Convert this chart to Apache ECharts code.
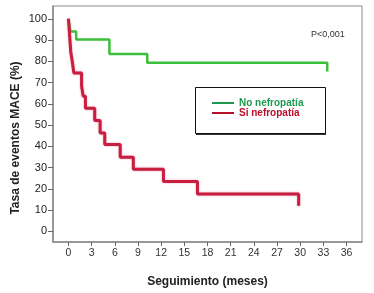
<!DOCTYPE html>
<html>
<head>
<meta charset="utf-8">
<script src="https://cdn.jsdelivr.net/npm/echarts@6/dist/echarts.min.js"></script>
<style>
  html, body { margin: 0; padding: 0; background: #fff; }
  #chart { width: 374px; height: 293px; }
</style>
</head>
<body>
<div id="chart"></div>
<script>
// Kaplan-Meier curves (time in months, rate in %)
const noNefTime = [0, 0.25, 1.0, 5.3, 10.2, 33.5]
const noNefRate = [100, 94, 90.2, 83.4, 79.3, 75.2]

const siNefTime = [0, 0.2, 0.3, 0.5, 0.7, 1.7, 1.9, 2.2, 3.4, 4.1, 4.7, 6.7, 8.4, 12.3, 16.7, 29.8]
const siNefRate = [100, 89.6, 84.4, 79.8, 74.5, 68.5, 63.6, 57.9, 52.1, 46.3, 40.8, 34.9, 29.2, 23.4, 17.6, 12.0]

const xTicks = [0, 3, 6, 9, 12, 15, 18, 21, 24, 27, 30, 33, 36]
const yTicks = [0, 10, 20, 30, 40, 50, 60, 70, 80, 90, 100]

const seriesNames = ['No nefropatía', 'Si nefropatía']

const toPairs = (t, v) => t.map((x, i) => [x, v[i]])

const chart = echarts.init(document.getElementById('chart'))

const font = 'Liberation Sans, Arial, sans-serif'

chart.setOption({
  animation: false,
  title: {
    text: 'P<0,001',
    left: 306,
    top: 25,
    textStyle: { fontSize: 9, fontWeight: 'normal', color: '#333', fontFamily: font },
  },
  grid: {
    left: 53,
    top: 6,
    right: 12,
    bottom: 45,
    show: true,
    borderColor: '#8a8a8a',
    borderWidth: 1,
  },
  legend: {
    left: 207,
    top: 93,
    orient: 'vertical',
    icon: 'rect',
    itemWidth: 22,
    itemHeight: 2,
    itemGap: 0,
    itemTextGap: 8,
    data: [
      { name: seriesNames[0], itemStyle: { color: '#1e9a50' }, textStyle: { color: '#1e9a50' } },
      { name: seriesNames[1], itemStyle: { color: '#b8102a' }, textStyle: { color: '#b8102a' } },
    ],
    textStyle: { fontSize: 10, fontWeight: 'bold', fontFamily: font, lineHeight: 10 },
  },
  graphic: [
    // legend box with a drop shadow
    {
      type: 'rect',
      left: 196,
      top: 89,
      shape: { width: 130, height: 46 },
      style: { fill: '#333' },
      z: 0,
    },
    {
      type: 'rect',
      left: 195,
      top: 87,
      shape: { width: 130, height: 46 },
      style: { fill: '#fff', stroke: '#111', lineWidth: 1 },
      z: 1,
    },
    {
      type: 'text',
      x: 16,
      y: 138,
      rotation: Math.PI / 2,
      style: {
        text: 'Tasa de eventos MACE (%)',
        font: 'bold 12px ' + font,
        fill: '#222',
        align: 'center',
        verticalAlign: 'middle',
      },
    },
  ],
  xAxis: {
    type: 'value',
    min: -2,
    max: 38,
    name: 'Seguimiento (meses)',
    nameLocation: 'middle',
    nameGap: 34,
    nameTextStyle: { fontSize: 12, fontWeight: 'bold', color: '#222', fontFamily: font },
    splitLine: { show: false },
    axisLine: { onZero: false, lineStyle: { color: '#8a8a8a', width: 1.5 } },
    axisTick: { customValues: xTicks, length: 4, lineStyle: { color: '#666' } },
    axisLabel: { customValues: xTicks, fontSize: 10.5, color: '#333', margin: 6, fontFamily: font },
  },
  yAxis: {
    type: 'value',
    min: -5,
    max: 106,
    splitLine: { show: false },
    axisLine: { show: true, onZero: false, lineStyle: { color: '#8a8a8a', width: 1.5 } },
    axisTick: { customValues: yTicks, length: 5, lineStyle: { color: '#666' } },
    axisLabel: { customValues: yTicks, fontSize: 11, color: '#222', margin: 6, fontFamily: font },
  },
  series: [
    {
      name: seriesNames[0],
      type: 'line',
      step: 'end',
      showSymbol: false,
      data: toPairs(noNefTime, noNefRate),
      lineStyle: { color: '#3cc03c', width: 2.5 },
      itemStyle: { color: '#3cc03c' },
      z: 2,
    },
    {
      name: seriesNames[1],
      type: 'line',
      step: 'end',
      showSymbol: false,
      data: toPairs(siNefTime, siNefRate),
      lineStyle: { color: '#c81e40', width: 3, shadowColor: 'rgba(230,80,110,0.6)', shadowBlur: 2 },
      itemStyle: { color: '#c81e40' },
      z: 3,
    },
  ],
})
</script>
</body>
</html>
